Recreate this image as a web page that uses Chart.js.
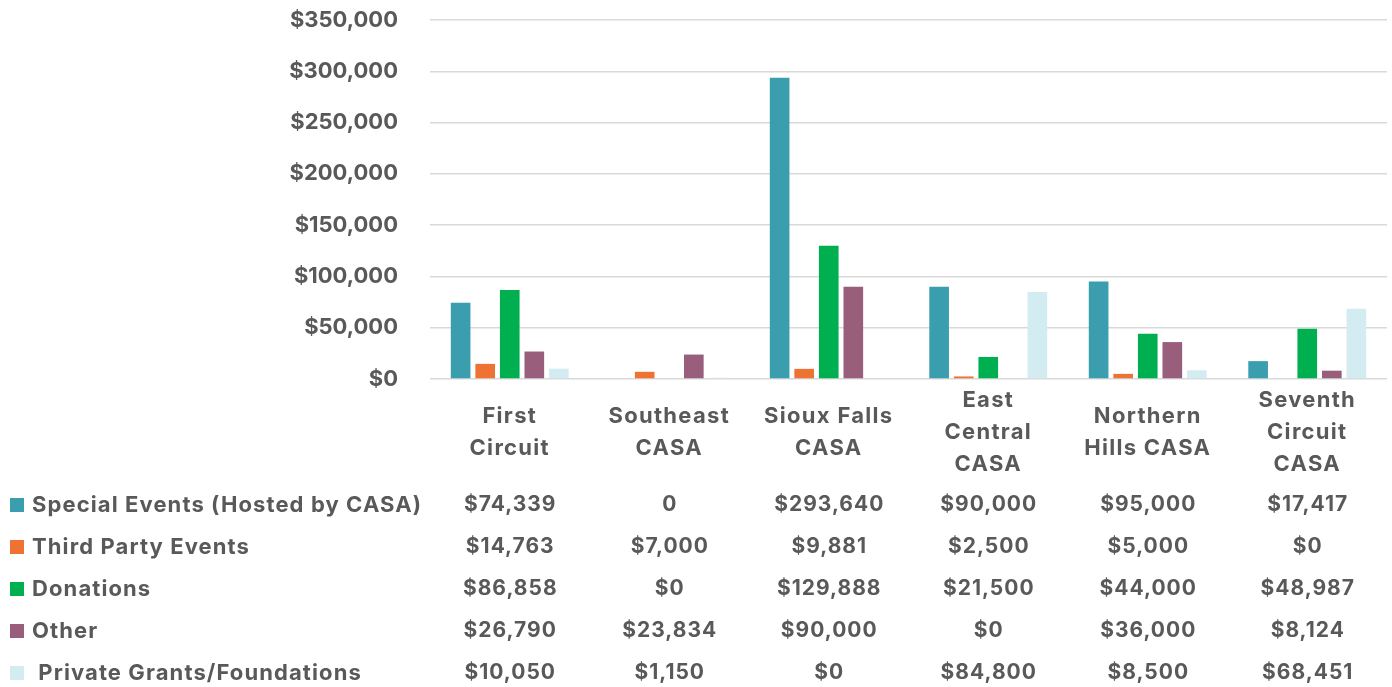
<!DOCTYPE html>
<html><head><meta charset="utf-8">
<script src="https://cdn.jsdelivr.net/npm/chart.js@4.4.1/dist/chart.umd.min.js"></script>
<style>html,body{margin:0;padding:0;background:#fff;overflow:hidden}canvas{display:block}</style>
</head><body>
<canvas id="c" width="1392" height="687" style="width:1392px;height:687px"></canvas>
<script>
// ---- data ----
const categories = [["First","Circuit"],["Southeast","CASA"],["Sioux Falls","CASA"],["East","Central","CASA"],["Northern","Hills CASA"],["Seventh","Circuit","CASA"]];
const seriesNames = ["Special Events (Hosted by CASA)","Third Party Events","Donations","Other"," Private Grants/Foundations"];
const specialEvents = [74339, 0, 293640, 90000, 95000, 17417];
const thirdPartyEvents = [14763, 7000, 9881, 2500, 5000, 0];
const donations = [86858, 0, 129888, 21500, 44000, 48987];
const other = [26790, 23834, 90000, 0, 36000, 8124];
const privateGrants = [10050, 1150, 0, 84800, 8500, 68451];
// table text as printed
const specialEventsText = ["$74,339","0","$293,640","$90,000","$95,000","$17,417"];
const thirdPartyEventsText = ["$14,763","$7,000","$9,881","$2,500","$5,000","$0"];
const donationsText = ["$86,858","$0","$129,888","$21,500","$44,000","$48,987"];
const otherText = ["$26,790","$23,834","$90,000","$0","$36,000","$8,124"];
const privateGrantsText = ["$10,050","$1,150","$0","$84,800","$8,500","$68,451"];
const yTickMax = 350000, yTickStep = 50000;

const colors = ["#3A9EAE","#ED7233","#00AF50","#985E7C","#D3ECF1"];
const textColor = "#595959";
const FONT = 'Inter, "Open Sans", sans-serif';

const seriesValues = [specialEvents, thirdPartyEvents, donations, other, privateGrants];
const seriesText = [specialEventsText, thirdPartyEventsText, donationsText, otherText, privateGrantsText];

const datasets = seriesNames.map((n,i)=>({
  label: n, data: seriesValues[i], backgroundColor: colors[i],
  borderWidth: 0, barPercentage: 0.8, categoryPercentage: 0.77
}));

function withSpacing(ctx, sp, fn){
  const prev = ctx.letterSpacing;
  ctx.letterSpacing = sp;
  fn();
  ctx.letterSpacing = prev || '0px';
}

const tablePlugin = {
  id: 'dataTable',
  beforeDraw(chart){
    const xs = chart.scales.x;
    if (xs && !xs.__wrapped){
      const orig = xs.drawLabels.bind(xs);
      xs.drawLabels = function(a){ withSpacing(this.ctx, '1.3px', () => orig(a)); };
      xs.__wrapped = true;
    }
  },
  afterDraw(chart){
    const ctx = chart.ctx, xs = chart.scales.x;
    ctx.save();
    ctx.textBaseline = 'middle';
    chart.data.datasets.forEach((ds, i) => {
      const y = 505 + i * 42;
      ctx.fillStyle = ds.backgroundColor;
      ctx.fillRect(10, y - 7, 14, 14);
      ctx.fillStyle = textColor;
      ctx.textAlign = 'left';
      ctx.font = 'bold 22px ' + FONT;
      withSpacing(ctx, '1.1px', () => ctx.fillText(ds.label, 32, y));
      ctx.textAlign = 'center';
      ctx.font = 'bold 21px ' + FONT;
      withSpacing(ctx, '1px', () => {
        seriesText[i].forEach((t, j) => ctx.fillText(t, xs.getPixelForValue(j) + 0.5, y));
      });
    });
    ctx.restore();
  }
};

new Chart(document.getElementById('c'), {
  type: 'bar',
  data: { labels: categories, datasets },
  plugins: [tablePlugin],
  options: {
    responsive: false, animation: false,
    layout: { padding: { top: 20, right: 5, left: 0, bottom: 0 } },
    plugins: { legend: { display: false }, tooltip: { enabled: false } },
    scales: {
      x: {
        grid: { display: false, drawTicks: false },
        border: { display: false },
        ticks: { color: textColor, font: { family: FONT, size: 22, weight: 'bold', lineHeight: 32/22 }, padding: 21, crossAlign: 'center', maxRotation: 0, autoSkip: false },
        afterFit(s){ s.height = 308; }
      },
      y: {
        min: 0, max: yTickMax,
        grid: { color: '#D9D9D9', lineWidth: 1.5, drawTicks: false },
        border: { display: false },
        ticks: { stepSize: yTickStep, color: textColor, padding: 32,
          font: { family: FONT, size: 22, weight: 'bold' },
          callback: v => '$' + v.toLocaleString('en-US') },
        afterFit(s){ s.width = 430; s.paddingTop = 12; s.paddingBottom = 12; }
      }
    }
  }
});
</script>
</body></html>
